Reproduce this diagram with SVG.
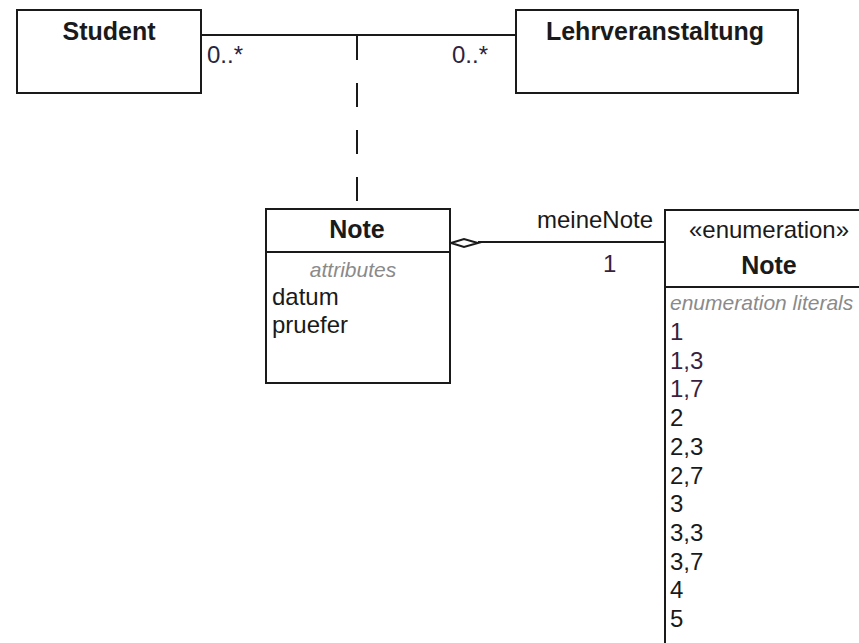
<svg xmlns="http://www.w3.org/2000/svg" width="859" height="643" viewBox="0 0 859 643">
<style>
  .box { fill: #ffffff; stroke: #1a1a1a; stroke-width: 2; }
  .ln { stroke: #1a1a1a; stroke-width: 2; fill: none; }
  .t { font-family: "Liberation Sans", Arial, sans-serif; font-size: 24px; fill: #1a1a1a; }
  .b { font-weight: bold; font-size: 25px; }
  .c { text-anchor: middle; }
  .g { font-style: italic; fill: #8a8a8a; font-size: 21px; }
  .m { fill: #2a2440; }
  .p { fill: #3a1f3f; }
</style>
<rect width="859" height="643" fill="#ffffff"/>
<g id="connectors">
  <line class="ln" x1="201" y1="35" x2="516" y2="35"/>
  <line class="ln" x1="357" y1="36" x2="357" y2="209" stroke-dasharray="24 23"/>
  <line class="ln" x1="478" y1="242" x2="665" y2="242"/>
  <polygon points="451,243 464,239 478,243 464,247" fill="#ffffff" stroke="#1a1a1a" stroke-width="2"/>
  <text class="t m" x="207" y="63">0..*</text>
  <text class="t m" x="452" y="63">0..*</text>
  <text class="t" x="537" y="228">meineNote</text>
  <text class="t p" x="603" y="272">1</text>
</g>
<g id="student">
  <rect class="box" x="17" y="10" width="184" height="83"/>
  <text class="t b c" x="109" y="40">Student</text>
</g>
<g id="lehrveranstaltung">
  <rect class="box" x="516" y="10" width="282" height="83"/>
  <text class="t b c" x="655" y="40">Lehrveranstaltung</text>
</g>
<g id="note-class">
  <rect class="box" x="266" y="209" width="184" height="174"/>
  <line class="ln" x1="266" y1="252" x2="450" y2="252"/>
  <text class="t b c" x="357" y="238">Note</text>
  <text class="t g c" x="353" y="277">attributes</text>
  <text class="t" x="272" y="305">datum</text>
  <text class="t" x="272" y="333">pruefer</text>
</g>
<g id="note-enum">
  <rect class="box" x="665" y="210" width="220" height="450"/>
  <line class="ln" x1="665" y1="287" x2="859" y2="287"/>
  <text class="t c" x="769" y="238">«enumeration»</text>
  <text class="t b c" x="769" y="274">Note</text>
  <text class="t g" x="670" y="310">enumeration literals</text>
  <text class="t p" x="670" y="340">1</text>
  <text class="t p" x="670" y="369">1,3</text>
  <text class="t p" x="670" y="397">1,7</text>
  <text class="t" x="670" y="426">2</text>
  <text class="t" x="670" y="455">2,3</text>
  <text class="t" x="670" y="484">2,7</text>
  <text class="t" x="670" y="512">3</text>
  <text class="t" x="670" y="541">3,3</text>
  <text class="t" x="670" y="570">3,7</text>
  <text class="t" x="670" y="598">4</text>
  <text class="t" x="670" y="627">5</text>
</g>
</svg>
